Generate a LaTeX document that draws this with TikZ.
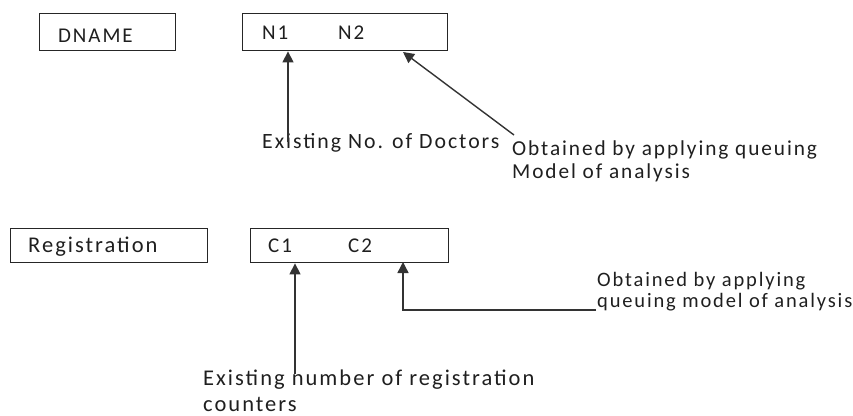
\documentclass[tikz,border=0pt]{standalone}
\usepackage{fontspec}
\setmainfont{Carlito}[LetterSpace=9]
\usetikzlibrary{arrows.meta}
\begin{document}
\begin{tikzpicture}[x=1pt,y=-1pt,
  box/.style={draw=black!85,line width=1.4pt},
  lbl/.style={anchor=base west,inner sep=0pt,text=black!88,font=\fontsize{21}{24}\selectfont},
  big/.style={font=\fontsize{22.5}{26}\selectfont},
  small/.style={font=\fontsize{20.5}{24}\selectfont},
  arr/.style={draw=black!80,line width=1.4pt,-{Triangle[length=11pt,width=11pt]}}]
\useasboundingbox (0,0) rectangle (853,415);
% top row
\node[box,minimum width=136pt,minimum height=37pt,anchor=north west,inner sep=0pt] (dbox) at (39,13) {};
\node[box,minimum width=205pt,minimum height=37pt,anchor=north west,inner sep=0pt] (nbox) at (242,13) {};
\node[lbl] (dname) at (58,42) {DNAME};
\node[lbl] (n1) at (262,39) {N1};
\node[lbl] (n2) at (338,39) {N2};
\node[lbl,font=\fontsize{21.8}{24}\selectfont] (exdoc) at (262,148) {Existing No. of Doctors};
\node[lbl,font=\fontsize{21.3}{24}\selectfont] (ob1a) at (512,155) {Obtained by applying queuing};
\node[lbl,font=\fontsize{21.3}{24}\selectfont] (ob1b) at (512,178) {Model of analysis};
\coordinate (a1s) at (288,142);
\coordinate (a2s) at (514,135);
\draw[arr] (a1s) -- (a1s |- nbox.south);
\draw[arr] (a2s) -- (403,52);
% bottom row
\node[box,minimum width=197pt,minimum height=34pt,anchor=north west,inner sep=0pt] (rbox) at (10,228) {};
\node[box,minimum width=198pt,minimum height=34pt,anchor=north west,inner sep=0pt] (cbox) at (250,228) {};
\node[lbl,big] (reg) at (28,252) {Registration};
\node[lbl] (c1) at (268,252) {C1};
\node[lbl] (c2) at (348,252) {C2};
\node[lbl,small] (ob2a) at (597,286) {Obtained by applying};
\node[lbl,small] (ob2b) at (597,307) {queuing model of analysis};
\node[lbl,big] (exreg) at (203,385) {Existing number of registration};
\node[lbl,big] (cnt) at (203,411) {counters};
\coordinate (b1s) at (295,374);
\coordinate (b2s) at (596,310);
\draw[arr] (b1s) -- (b1s |- cbox.south);
\draw[arr] (b2s) -| (403,262);
\end{tikzpicture}
\end{document}
